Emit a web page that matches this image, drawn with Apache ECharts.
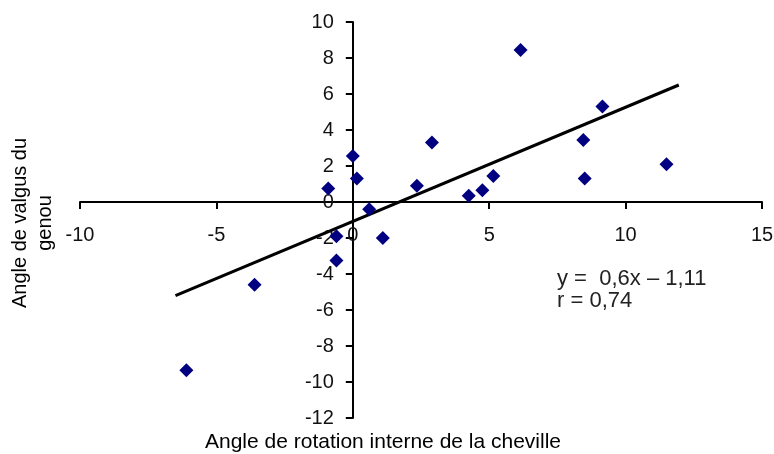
<!DOCTYPE html>
<html>
<head>
<meta charset="utf-8">
<script src="https://cdn.jsdelivr.net/npm/echarts@6/dist/echarts.min.js"></script>
<style>
  html, body { margin: 0; padding: 0; background: #fff; }
  #chart { width: 774px; height: 454px; }
</style>
</head>
<body>
<div id="chart"></div>
<script>
// points
const xVals = [-6.1, -3.6, -0.9, -0.6, -0.6, 0.0, 0.15, 0.6, 1.1, 2.35, 2.9, 4.25, 4.75, 5.15, 6.15, 8.45, 8.5, 9.15, 11.5];
const yVals = [-9.35, -4.6, 0.75, -1.9, -3.25, 2.55, 1.3, -0.4, -2.0, 0.9, 3.3, 0.35, 0.65, 1.45, 8.45, 3.45, 1.3, 5.3, 2.1];

// regression line ends
const trendX = [-6.5, 11.95];
const trendY = [-5.2, 6.5];

const xAxisRange = { min: -10, max: 15, interval: 5 };
const yAxisRange = { min: -12, max: 10, interval: 2 };

const xName = 'Angle de rotation interne de la cheville';
const yName = 'Angle de valgus du\ngenou';
const eqLines = ['y =  0,6x – 1,11', 'r = 0,74'];

const FONT = '"Liberation Sans", Arial, sans-serif';
const W = 774, H = 454;
const grid = { left: 80, right: 12, top: 22, bottom: 36 };

// axes cross at zero: shift each axis from the grid edge to the other axis' zero
const gridW = W - grid.left - grid.right;
const gridH = H - grid.top - grid.bottom;
const yAxisShift = (0 - xAxisRange.min) / (xAxisRange.max - xAxisRange.min) * gridW;
const xAxisShift = (0 - yAxisRange.min) / (yAxisRange.max - yAxisRange.min) * gridH;

const chart = echarts.init(document.getElementById('chart'));

const axisCommon = {
    type: 'value',
    axisLine: { show: true, onZero: false, lineStyle: { color: '#000', width: 2 } },
    axisTick: { show: true, inside: false, length: 7, lineStyle: { color: '#000', width: 2 } },
    splitLine: { show: false },
    axisLabel: { color: '#111', fontSize: 20, fontFamily: FONT, showMinLabel: true, showMaxLabel: true }
};

chart.setOption({
    backgroundColor: '#fff',
    animation: false,
    grid: Object.assign({ containLabel: false, outerBoundsMode: 'none' }, grid),
    xAxis: Object.assign({}, axisCommon, xAxisRange, {
        position: 'bottom',
        offset: -xAxisShift,
        axisLabel: Object.assign({}, axisCommon.axisLabel, { margin: 23 })
    }),
    yAxis: Object.assign({}, axisCommon, yAxisRange, {
        position: 'left',
        offset: -yAxisShift,
        axisLabel: Object.assign({}, axisCommon.axisLabel, { margin: 19 })
    }),
    series: [
        {
            type: 'line',
            data: trendX.map((x, i) => [x, trendY[i]]),
            showSymbol: false,
            symbol: 'none',
            lineStyle: { color: '#000', width: 3 },
            z: 2
        },
        {
            type: 'scatter',
            data: xVals.map((x, i) => [x, yVals[i]]),
            symbol: 'diamond',
            symbolSize: 14,
            itemStyle: { color: '#000080', opacity: 1 },
            z: 3
        }
    ],
    graphic: [
        {
            type: 'text', x: 383, y: 442,
            style: { text: xName, font: '21px ' + FONT, fill: '#000', align: 'center', verticalAlign: 'middle' }
        },
        {
            type: 'text', x: 33, y: 223, rotation: Math.PI / 2,
            style: { text: yName, font: '20px ' + FONT, fill: '#000', align: 'center', verticalAlign: 'middle', lineHeight: 25 }
        },
        {
            type: 'text', x: 557, y: 290,
            style: { text: eqLines.join('\n'), font: '22px ' + FONT, fill: '#222', align: 'left', verticalAlign: 'middle', lineHeight: 22 }
        }
    ]
});
</script>
</body>
</html>
